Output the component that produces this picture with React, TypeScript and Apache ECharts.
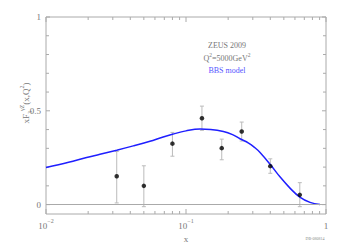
import React, { useEffect, useRef } from "react";
import * as echarts from "echarts";

const pointX = [0.032, 0.05, 0.08, 0.13, 0.18, 0.25, 0.4, 0.65];
const pointY = [0.151, 0.1, 0.325, 0.46, 0.301, 0.39, 0.205, 0.052];
const errHigh = [0.283, 0.207, 0.385, 0.525, 0.349, 0.44, 0.244, 0.117];
const errLow = [0.009, -0.011, 0.258, 0.396, 0.239, 0.339, 0.167, -0.011];

const curveX = [0.01, 0.0145, 0.0195, 0.0243, 0.032, 0.042, 0.0553, 0.067, 0.08, 0.1, 0.126, 0.15, 0.185, 0.215, 0.243, 0.28, 0.311, 0.338, 0.4, 0.469, 0.553, 0.65, 0.769, 0.906];
const curveY = [0.198, 0.226, 0.251, 0.268, 0.29, 0.313, 0.338, 0.358, 0.375, 0.393, 0.403, 0.401, 0.39, 0.373, 0.351, 0.328, 0.303, 0.278, 0.214, 0.148, 0.088, 0.04, 0.012, 0.001];

const xMajorTicks = [0.01, 0.1, 1];
const xMinorTicks = [0.02, 0.03, 0.04, 0.05, 0.06, 0.07, 0.08, 0.09, 0.2, 0.3, 0.4, 0.5, 0.6, 0.7, 0.8, 0.9];
const yTicks = [0, 0.1, 0.2, 0.3, 0.4, 0.5, 0.6, 0.7, 0.8, 0.9, 1];
const yLabels = [0, 0.5, 1];

const FONT = "Liberation Serif";
const GRAY = "#aaaaaa";
const LABEL = "#777777";

export default function App() {
  const ref = useRef<HTMLDivElement>(null);
  useEffect(() => {
    document.body.style.margin = "0";
    const chart = echarts.init(ref.current!, null, { renderer: "svg" });
    const tickColor = GRAY;
    const option: any = {
      animation: false,
      backgroundColor: "#ffffff",
      grid: {
        left: 46,
        top: 17,
        right: 22,
        bottom: 29,
        show: true,
        borderColor: GRAY,
        borderWidth: 1,
        containLabel: false,
        outerBoundsMode: "none",
      },
      xAxis: {
        type: "log",
        logBase: 10,
        min: 0.01,
        max: 1,
        axisLine: { show: false },
        axisTick: { show: false },
        splitLine: { show: false },
        axisLabel: {
          margin: 4,
          fontFamily: FONT,
          fontSize: 9,
          color: LABEL,
          formatter: (v: number) => {
            if (Math.abs(v - 1) < 1e-9) return "{b|1}";
            const e = Math.round(Math.log10(v));
            return "{b|10}{e|" + "\u2212" + Math.abs(e) + "}";
          },
          rich: {
            b: { fontFamily: FONT, fontSize: 9, color: LABEL, verticalAlign: "bottom", lineHeight: 12 },
            e: { fontFamily: FONT, fontSize: 6, color: LABEL, verticalAlign: "top", lineHeight: 12 },
          },
        },
        name: "x",
        nameLocation: "middle",
        nameGap: 15,
        nameTextStyle: { fontFamily: FONT, fontSize: 9, color: LABEL },
      },
      yAxis: {
        type: "value",
        min: -0.05,
        max: 1,
        interval: 0.05,
        axisLine: { show: false },
        axisTick: { show: false },
        splitLine: { show: false },
        axisLabel: {
          margin: 5,
          fontFamily: FONT,
          fontSize: 9,
          color: LABEL,
          showMinLabel: true,
          showMaxLabel: true,
          formatter: (v: number) => {
            for (const l of yLabels) if (Math.abs(v - l) < 1e-6) return String(l);
            return "";
          },
        },
      },
      graphic: [
        {
          type: "text",
          x: 26,
          y: 103,
          rotation: Math.PI / 2,
          style: {
            text: "{a|xF}{sub|3}{sup|\u03b3Z}{a|(x,Q}{sup|2}{a|)}",
            align: "center",
            verticalAlign: "middle",
            rich: {
              a: { fontFamily: FONT, fontSize: 9, fill: LABEL, lineHeight: 14, verticalAlign: "middle" },
              sub: { fontFamily: FONT, fontSize: 6, fill: LABEL, lineHeight: 14, verticalAlign: "bottom" },
              sup: { fontFamily: FONT, fontSize: 6, fill: LABEL, lineHeight: 14, verticalAlign: "top" },
            },
          },
        },
        {
          type: "text",
          x: 227,
          y: 45,
          style: { text: "ZEUS 2009", fontFamily: FONT, fontSize: 8, fill: "#777777", align: "center", verticalAlign: "middle" },
        },
        {
          type: "text",
          x: 227,
          y: 57,
          style: {
            text: "{a|Q}{s|2}{a|=5000GeV}{s|2}",
            align: "center",
            verticalAlign: "middle",
            rich: {
              a: { fontFamily: FONT, fontSize: 8, fill: "#777777", lineHeight: 11, verticalAlign: "bottom" },
              s: { fontFamily: FONT, fontSize: 5.5, fill: "#777777", lineHeight: 11, verticalAlign: "top" },
            },
          },
        },
        {
          type: "text",
          x: 227,
          y: 70,
          style: { text: "BBS model", fontFamily: FONT, fontSize: 8, fill: "#5555ff", align: "center", verticalAlign: "middle" },
        },
        {
          type: "text",
          x: 315,
          y: 238,
          style: { text: "DB-080814", fontFamily: FONT, fontSize: 4, fill: "#888888", align: "center", verticalAlign: "middle" },
        },
      ],
      series: [
        {
          type: "custom",
          silent: true,
          clip: false,
          z: 1,
          data: [...xMajorTicks.map((v) => [v, 0, 5]), ...xMinorTicks.map((v) => [v, 0, 3])],
          renderItem: (params: any, api: any) => {
            const cs = params.coordSys;
            const x = api.coord([api.value(0), 0])[0];
            const len = api.value(2);
            const bottom = cs.y + cs.height;
            const st = { stroke: tickColor, lineWidth: 1 };
            return {
              type: "group",
              children: [
                { type: "line", shape: { x1: x, y1: bottom, x2: x, y2: bottom - len }, style: st },
                { type: "line", shape: { x1: x, y1: cs.y, x2: x, y2: cs.y + len }, style: st },
              ],
            };
          },
        },
        {
          type: "custom",
          silent: true,
          clip: false,
          z: 1,
          data: yTicks.map((v) => [0.01, v, yLabels.includes(v) ? 4 : 3]),
          renderItem: (params: any, api: any) => {
            const cs = params.coordSys;
            const y = api.coord([0.01, api.value(1)])[1];
            const len = api.value(2);
            const right = cs.x + cs.width;
            const st = { stroke: tickColor, lineWidth: 1 };
            return {
              type: "group",
              children: [
                { type: "line", shape: { x1: cs.x, y1: y, x2: cs.x + len, y2: y }, style: st },
                { type: "line", shape: { x1: right, y1: y, x2: right - len, y2: y }, style: st },
              ],
            };
          },
        },
        {
          type: "line",
          data: curveX.map((x, i) => [x, curveY[i]]),
          smooth: 0.4,
          showSymbol: false,
          lineStyle: { color: "#1f1fff", width: 1.5 },
          z: 3,
          markLine: {
            silent: true,
            symbol: "none",
            label: { show: false },
            lineStyle: { color: GRAY, width: 1, type: "solid" },
            data: [{ yAxis: 0 }],
          },
        },
        {
          type: "custom",
          silent: true,
          z: 2,
          data: pointX.map((x, i) => [x, errLow[i], errHigh[i]]),
          renderItem: (params: any, api: any) => {
            const x = api.value(0);
            const lo = api.coord([x, api.value(1)]);
            const hi = api.coord([x, api.value(2)]);
            const st = { stroke: "#bbbbbb", lineWidth: 1 };
            const c = 2;
            return {
              type: "group",
              children: [
                { type: "line", shape: { x1: lo[0], y1: lo[1], x2: hi[0], y2: hi[1] }, style: st },
                { type: "line", shape: { x1: lo[0] - c, y1: lo[1], x2: lo[0] + c, y2: lo[1] }, style: st },
                { type: "line", shape: { x1: hi[0] - c, y1: hi[1], x2: hi[0] + c, y2: hi[1] }, style: st },
              ],
            };
          },
        },
        {
          type: "scatter",
          data: pointX.map((x, i) => [x, pointY[i]]),
          symbol: "circle",
          symbolSize: 4.5,
          itemStyle: { color: "#000000" },
          z: 4,
        },
      ],
    };
    chart.setOption(option);
    return () => chart.dispose();
  }, []);
  return <div ref={ref} style={{ width: 348, height: 243 }} />;
}
